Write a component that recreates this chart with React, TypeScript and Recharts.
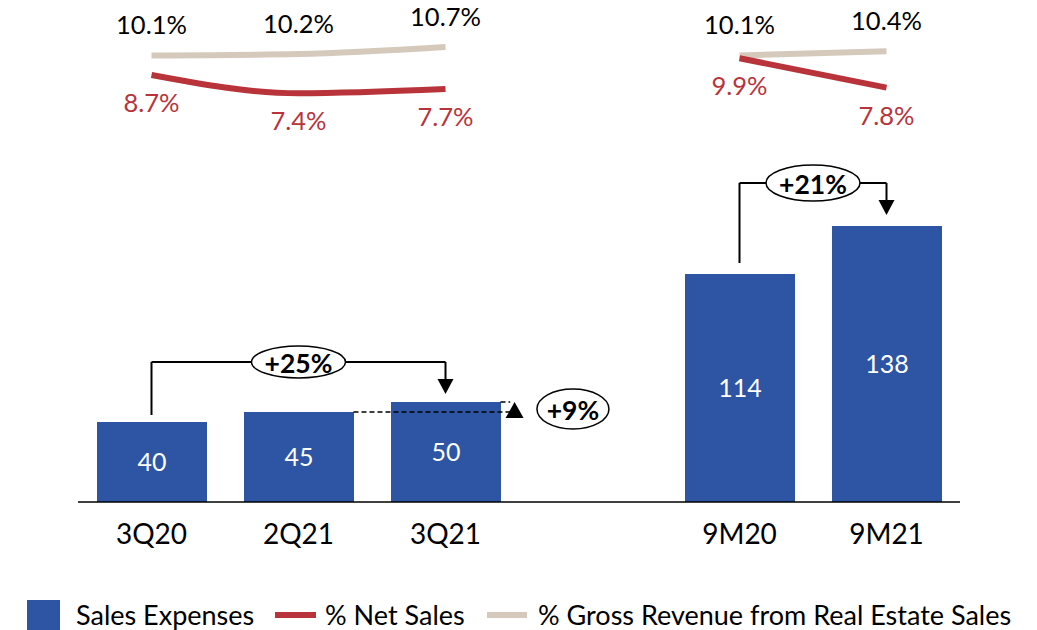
import React from 'react';
import {
  ComposedChart,
  Bar,
  Line,
  XAxis,
  YAxis,
  LabelList,
  ReferenceLine,
  ReferenceDot,
  Legend,
} from 'recharts';

// ---------- data ----------
const categories = ['3Q20', '2Q21', '3Q21', '', '9M20', '9M21'];
const salesExpenses = [40, 45, 50, null, 114, 138];
const pctNetSales = [8.7, 7.4, 7.7, null, 9.9, 7.8];
const pctGrossRevenue = [10.1, 10.2, 10.7, null, 10.1, 10.4];

const seriesNames = ['Sales Expenses', '% Net Sales', '% Gross Revenue from Real Estate Sales'];
const growthLabels = ['+25%', '+9%', '+21%'];

// bracket annotations (category index on numeric axis, values in bar units)
const bracket25 = { from: 0, to: 2, start: 43.5, level: 70, tip: 54 };
const bracket21 = { from: 4, to: 5, start: 119.5, level: 159.5, tip: 143.5 };
// +9% step annotation
const step9 = { lowFrom: 1.374, highFrom: 2.374, end: 2.44, low: 45, high: 50, arrowX: 2.47, labelX: 2.867, labelY: 46.5 };

const data = categories.map((c, i) => ({
  cat: c,
  pos: i,
  sales: salesExpenses[i],
  net: pctNetSales[i],
  gross: pctGrossRevenue[i],
}));

// ---------- styles ----------
const FONT = 'Lato, sans-serif';
const BLUE = '#2D55A4';
const RED = '#B8333A';
const BEIGE = '#D5C9BC';
const W = 1037;
const H = 630;

const ellipseShape = (label: string, rx: number, ry: number) => (p: any) => (
  <g>
    <ellipse cx={p.cx} cy={p.cy} rx={rx} ry={ry} fill="#fff" stroke="#000" strokeWidth={1.5} />
    <text
      x={p.cx}
      y={p.cy + 1}
      textAnchor="middle"
      dominantBaseline="central"
      fontFamily={FONT}
      fontWeight={700}
      fontSize={26.5}
      fill="#000"
    >
      {label}
    </text>
  </g>
);

const arrowDown = (p: any) => (
  <polygon points={`${p.cx - 8},${p.cy - 15} ${p.cx + 8},${p.cy - 15} ${p.cx},${p.cy}`} fill="#000" />
);
const arrowUp = (p: any) => (
  <polygon points={`${p.cx - 9},${p.cy + 16} ${p.cx + 9},${p.cy + 16} ${p.cx},${p.cy}`} fill="#000" />
);

const grossLabel = (p: any) => {
  if (p.value == null) return null;
  return (
    <text x={p.x} y={p.y - 31} textAnchor="middle" dominantBaseline="central" fontFamily={FONT} fontSize={25.5} fill="#000">
      {`${Number(p.value).toFixed(1)}%`}
    </text>
  );
};
const netLabel = (p: any) => {
  if (p.value == null) return null;
  return (
    <text x={p.x} y={p.y + 27} textAnchor="middle" dominantBaseline="central" fontFamily={FONT} fontSize={25.5} fill={RED}>
      {`${Number(p.value).toFixed(1)}%`}
    </text>
  );
};

const CatTick = (p: any) => (
  <text x={p.x} y={p.y + 29} textAnchor="middle" dominantBaseline="central" fontFamily={FONT} fontSize={28} fill="#000">
    {p.payload.value}
  </text>
);

const legendText: React.CSSProperties = { position: 'absolute', top: 0, lineHeight: '32px', fontFamily: FONT, fontSize: 27, color: '#000', whiteSpace: 'nowrap' };

const renderLegend = () => (
  <div style={{ position: 'relative', width: W, height: 32 }}>
    <span style={{ position: 'absolute', left: 27, top: 1, width: 33, height: 30, background: BLUE }} />
    <span style={{ ...legendText, left: 76 }}>{seriesNames[0]}</span>
    <span style={{ position: 'absolute', left: 275, top: 13, width: 41, height: 6, background: RED }} />
    <span style={{ ...legendText, left: 325 }}>{seriesNames[1]}</span>
    <span style={{ position: 'absolute', left: 487, top: 13, width: 40, height: 6, background: BEIGE }} />
    <span style={{ ...legendText, left: 538 }}>{seriesNames[2]}</span>
  </div>
);

export default function App() {
  return (
    <div style={{ position: 'absolute', left: 0, top: 0, width: W, height: H, background: '#fff' }}>
      <ComposedChart width={W} height={H} data={data} margin={{ top: 22, right: 77, left: 78, bottom: 0 }}>
        <XAxis
          xAxisId="c"
          dataKey="cat"
          height={128}
          tickLine={false}
          tickSize={0}
          axisLine={{ stroke: '#000', strokeWidth: 1.5 }}
          tick={<CatTick />}
          interval={0}
        />
        <XAxis
          xAxisId="n"
          dataKey="pos"
          type="number"
          domain={[0, 5]}
          padding={{ left: 73.5, right: 73.5 }}
          allowDataOverflow
          hide
        />
        <YAxis yAxisId="bar" domain={[0, 240]} allowDataOverflow hide />
        <YAxis yAxisId="pct" domain={[-21.8, 12.49]} allowDataOverflow hide />

        <Bar xAxisId="c" yAxisId="bar" dataKey="sales" name={seriesNames[0]} fill={BLUE} barSize={110} isAnimationActive={false}>
          <LabelList dataKey="sales" position="center" fill="#fff" fontFamily={FONT} fontSize={25} />
        </Bar>
        <Line
          xAxisId="c"
          yAxisId="pct"
          type="monotone"
          dataKey="gross"
          name={seriesNames[2]}
          stroke={BEIGE}
          strokeWidth={6}
          dot={false}
          activeDot={false}
          isAnimationActive={false}
        >
          <LabelList dataKey="gross" content={grossLabel} />
        </Line>
        <Line
          xAxisId="c"
          yAxisId="pct"
          type="monotone"
          dataKey="net"
          name={seriesNames[1]}
          stroke={RED}
          strokeWidth={6}
          dot={false}
          activeDot={false}
          isAnimationActive={false}
        >
          <LabelList dataKey="net" content={netLabel} />
        </Line>

        {/* +25% bracket */}
        <ReferenceLine xAxisId="n" yAxisId="bar" segment={[{ x: bracket25.from, y: bracket25.start }, { x: bracket25.from, y: bracket25.level }]} stroke="#000" strokeWidth={2} />
        <ReferenceLine xAxisId="n" yAxisId="bar" segment={[{ x: bracket25.from, y: bracket25.level }, { x: 0.7, y: bracket25.level }]} stroke="#000" strokeWidth={2} />
        <ReferenceLine xAxisId="n" yAxisId="bar" segment={[{ x: 1.3, y: bracket25.level }, { x: bracket25.to, y: bracket25.level }]} stroke="#000" strokeWidth={2} />
        <ReferenceLine xAxisId="n" yAxisId="bar" segment={[{ x: bracket25.to, y: bracket25.level }, { x: bracket25.to, y: bracket25.tip + 4 }]} stroke="#000" strokeWidth={2} />
        <ReferenceDot xAxisId="n" yAxisId="bar" x={bracket25.to} y={bracket25.tip} shape={arrowDown} />
        <ReferenceDot xAxisId="n" yAxisId="bar" x={1} y={bracket25.level} shape={ellipseShape(growthLabels[0], 47, 16)} />

        {/* +21% bracket */}
        <ReferenceLine xAxisId="n" yAxisId="bar" segment={[{ x: bracket21.from, y: bracket21.start }, { x: bracket21.from, y: bracket21.level }]} stroke="#000" strokeWidth={2} />
        <ReferenceLine xAxisId="n" yAxisId="bar" segment={[{ x: bracket21.from, y: bracket21.level }, { x: bracket21.to, y: bracket21.level }]} stroke="#000" strokeWidth={2} />
        <ReferenceLine xAxisId="n" yAxisId="bar" segment={[{ x: bracket21.to, y: bracket21.level }, { x: bracket21.to, y: bracket21.tip + 4 }]} stroke="#000" strokeWidth={2} />
        <ReferenceDot xAxisId="n" yAxisId="bar" x={bracket21.to} y={bracket21.tip} shape={arrowDown} />
        <ReferenceDot xAxisId="n" yAxisId="bar" x={4.5} y={bracket21.level} shape={ellipseShape(growthLabels[2], 47, 18)} />

        {/* +9% step */}
        <ReferenceLine xAxisId="n" yAxisId="bar" segment={[{ x: step9.lowFrom, y: step9.low }, { x: step9.end, y: step9.low }]} stroke="#000" strokeWidth={1.5} strokeDasharray="5 3" />
        <ReferenceLine xAxisId="n" yAxisId="bar" segment={[{ x: step9.highFrom, y: step9.high }, { x: step9.end, y: step9.high }]} stroke="#000" strokeWidth={1.5} strokeDasharray="5 3" />
        <ReferenceDot xAxisId="n" yAxisId="bar" x={step9.arrowX} y={step9.high} shape={arrowUp} />
        <ReferenceDot xAxisId="n" yAxisId="bar" x={step9.labelX} y={step9.labelY} shape={ellipseShape(growthLabels[1], 36, 20)} />

        <Legend
          layout="vertical"
          verticalAlign="middle"
          align="center"
          content={renderLegend}
          wrapperStyle={{ left: 0, top: 599, width: W, height: 32 }}
        />
      </ComposedChart>
    </div>
  );
}
